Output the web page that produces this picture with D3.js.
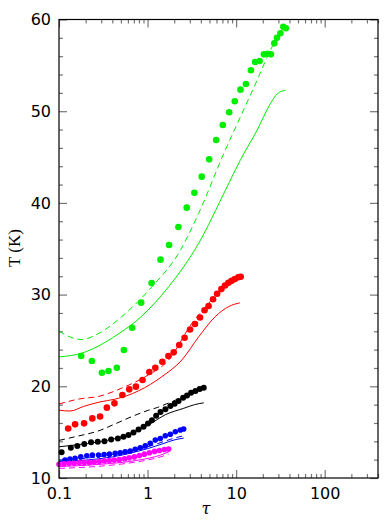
<!DOCTYPE html>
<html>
<head>
<meta charset="utf-8">
<script src="https://cdn.jsdelivr.net/npm/d3@7"></script>
<style>
  body { margin: 0; background: #fff; }
  .tick text { font-family: "DejaVu Sans", sans-serif; font-size: 16px; fill: #000; }
  .tick line { stroke: #777; }
  .domain { display: none; }
</style>
</head>
<body>
<div id="chart"></div>
<script>
var width = 392,
    height = 523,
    margin = {top: 19.5, right: 14, bottom: 45, left: 59};

// x ticks (tau, log scale) and y ticks (T in K)
var xMajor = [0.1, 1, 10, 100],
    yMajor = [10, 20, 30, 40, 50, 60];

// green
var gDotTau = [0.178, 0.235, 0.305, 0.362, 0.45, 0.54, 0.671, 0.848, 1.11, 1.40, 1.75, 2.23, 2.77, 3.38, 4.09, 4.96, 5.95, 7.07, 8.35, 9.66, 11.2, 12.9, 14.7, 16.4, 18.4, 20.6, 22.7, 24.7, 27.0, 28.9, 31.6, 34.1, 36.5],
    gDotT = [23.3, 22.76, 21.48, 21.67, 22.03, 23.96, 26.39, 29.12, 31.26, 33.81, 35.41, 37.37, 39.48, 41.11, 42.86, 44.75, 46.86, 48.49, 49.88, 51.08, 52.35, 52.97, 54.46, 55.37, 55.48, 56.2, 56.27, 56.2, 57.4, 58.0, 58.5, 59.2, 59.05],
    gSolidTau = [0.1, 0.178, 0.45, 0.848, 1.73, 3.78, 7.59, 11.2, 17.3, 24.5, 29.2, 36.2],
    gSolidT = [23.2, 23.6, 25.6, 27.6, 30.86, 35.6, 41.4, 44.7, 47.95, 50.86, 51.9, 52.3],
    gDashTau = [0.1, 0.178, 0.291, 0.512, 1.12, 2.24, 3.78, 7.27, 11.2, 17.3, 24.5, 34.6],
    gDashT = [26.0, 25.1, 25.85, 27.6, 30.86, 34.5, 38.87, 45.4, 49.4, 53.4, 56.7, 59.2];

// red
var rDotTau = [0.127, 0.152, 0.192, 0.238, 0.291, 0.347, 0.423, 0.520, 0.621, 0.739, 0.878, 1.047, 1.224, 1.468, 1.719, 1.974, 2.28, 2.62, 3.02, 3.43, 3.91, 4.40, 4.89, 5.49, 6.10, 6.82, 7.5, 8.18, 8.88, 9.68, 10.6, 11.26],
    rDotT = [15.4, 15.85, 15.96, 16.5, 16.7, 17.67, 18.14, 19.05, 19.67, 19.96, 20.69, 21.56, 22.03, 22.68, 23.3, 23.7, 24.5, 25.3, 26.2, 26.8, 27.5, 28.3, 28.76, 29.5, 30.1, 30.6, 31.0, 31.3, 31.5, 31.7, 31.9, 31.95],
    rSolidTau = [0.1, 0.133, 0.189, 0.291, 0.431, 0.79, 1.45, 2.44, 3.78, 5.82, 8.26, 11.0],
    rSolidT = [17.4, 17.3, 17.8, 18.3, 18.6, 19.5, 21.05, 22.87, 25.4, 27.6, 28.7, 29.1],
    rDashTau = [0.1, 0.165, 0.291, 0.512, 0.941, 1.73, 3.17, 4.9, 7.0, 11.2],
    rDashT = [18.07, 18.6, 18.94, 19.8, 21.05, 22.87, 26.87, 29.05, 30.7, 31.9];

// black
var kDotTau = [0.107, 0.136, 0.161, 0.193, 0.230, 0.274, 0.326, 0.388, 0.462, 0.535, 0.609, 0.694, 0.791, 0.901, 1.01, 1.12, 1.25, 1.40, 1.59, 1.81, 2.02, 2.24, 2.52, 2.79, 3.10, 3.47, 3.88, 4.31],
    kDotT = [12.8, 13.3, 13.5, 13.7, 13.9, 13.95, 14.0, 14.2, 14.3, 14.5, 14.7, 14.95, 15.3, 15.6, 15.95, 16.3, 16.8, 17.2, 17.5, 17.85, 18.1, 18.4, 18.75, 19.0, 19.3, 19.5, 19.7, 19.85],
    kSolidTau = [0.1, 0.152, 0.291, 0.43, 0.666, 1.03, 1.59, 2.56, 3.4, 4.31],
    kSolidT = [13.4, 13.6, 13.96, 14.3, 14.9, 15.8, 16.9, 17.6, 18.0, 18.2],
    kDashTau = [0.1, 0.152, 0.291, 0.43, 0.666, 1.03, 1.3, 1.65, 2.2, 3.0, 4.31],
    kDashT = [14.1, 14.5, 15.2, 15.9, 16.7, 17.4, 17.7, 18.1, 18.6, 19.2, 19.8];

// blue
var bDotTau = [0.117, 0.133, 0.152, 0.176, 0.206, 0.238, 0.279, 0.323, 0.371, 0.431, 0.491, 0.559, 0.637, 0.726, 0.827, 0.942, 1.073, 1.223, 1.392, 1.586, 1.807, 2.059, 2.346, 2.557],
    bDotT = [11.96, 12.07, 12.14, 12.3, 12.43, 12.5, 12.5, 12.57, 12.6, 12.7, 12.76, 12.87, 12.95, 13.13, 13.3, 13.5, 13.78, 14.14, 14.3, 14.6, 14.77, 15.05, 15.23, 15.34],
    bSolidTau = [0.1, 0.2, 0.4, 0.7, 1.0, 1.5, 2.0, 2.56],
    bSolidT = [11.8, 11.95, 12.3, 12.8, 13.2, 13.75, 14.15, 14.35],
    bDashTau = [0.1, 0.2, 0.4, 0.7, 1.0, 1.5, 2.0, 2.56],
    bDashT = [11.95, 12.15, 12.55, 13.0, 13.4, 13.95, 14.35, 14.6];

// magenta
var mDotTau = [0.1, 0.114, 0.13, 0.148, 0.169, 0.193, 0.22, 0.25, 0.285, 0.325, 0.37, 0.42, 0.48, 0.55, 0.62, 0.71, 0.81, 0.92, 1.05, 1.2, 1.36, 1.55, 1.73],
    mDotT = [11.5, 11.55, 11.6, 11.6, 11.65, 11.7, 11.7, 11.75, 11.8, 11.85, 11.9, 11.95, 12.0, 12.1, 12.2, 12.3, 12.45, 12.6, 12.75, 12.9, 13.0, 13.1, 13.15],
    mSolidTau = [0.1, 0.3, 0.8, 1.4, 1.73],
    mSolidT = [11.25, 11.5, 11.96, 12.5, 12.85],
    mDashTau = [0.1, 0.3, 0.8, 1.4, 1.73],
    mDashT = [11.05, 11.3, 11.8, 12.3, 12.6];

var series = [
  {color: '#00ee00', r: 3.3, dot: [gDotTau, gDotT], solid: [gSolidTau, gSolidT], dash: [gDashTau, gDashT]},
  {color: '#ff0000', r: 3.3, dot: [rDotTau, rDotT], solid: [rSolidTau, rSolidT], dash: [rDashTau, rDashT]},
  {color: '#000000', r: 3.0, dot: [kDotTau, kDotT], solid: [kSolidTau, kSolidT], dash: [kDashTau, kDashT]},
  {color: '#0000ff', r: 2.8, dot: [bDotTau, bDotT], solid: [bSolidTau, bSolidT], dash: [bDashTau, bDashT]},
  {color: '#ff00ff', r: 2.8, dot: [mDotTau, mDotT], solid: [mSolidTau, mSolidT], dash: [mDashTau, mDashT]}
];

function pairs(a) {
  return a[0].map(function (t, i) { return [t, a[1][i]]; });
}

var x = d3.scaleLog().domain([0.1, 400]).range([margin.left, width - margin.right]),
    y = d3.scaleLinear().domain([10, 60]).range([height - margin.bottom, margin.top]);

var xMinor = [];
[0.1, 1, 10, 100].forEach(function (d) {
  for (var k = 2; k <= 9; k += 1) {
    if (d * k <= 400) xMinor.push(d * k);
  }
});
var yMinor = d3.range(12, 60, 2).filter(function (v) { return v % 10 !== 0; });

var svg = d3.select('#chart').append('svg')
  .attr('width', width)
  .attr('height', height);

var x0 = margin.left, x1 = width - margin.right,
    y0 = height - margin.bottom, y1 = margin.top;

// ticks, pointing inward on all four sides
svg.append('g').attr('transform', 'translate(0,' + y0 + ')')
  .call(d3.axisBottom(x).tickValues(xMajor).tickSize(-8).tickPadding(10)
    .tickFormat(function (d) { return d < 1 ? '0.1' : d3.format('d')(d); }));
svg.append('g').attr('transform', 'translate(0,' + y0 + ')')
  .call(d3.axisBottom(x).tickValues(xMinor).tickSize(-4).tickFormat(''));
svg.append('g').attr('transform', 'translate(0,' + y1 + ')')
  .call(d3.axisTop(x).tickValues(xMajor).tickSize(-8).tickFormat(''));
svg.append('g').attr('transform', 'translate(0,' + y1 + ')')
  .call(d3.axisTop(x).tickValues(xMinor).tickSize(-4).tickFormat(''));

svg.append('g').attr('transform', 'translate(' + x0 + ',0)')
  .call(d3.axisLeft(y).tickValues(yMajor).tickSize(-8).tickPadding(8).tickFormat(d3.format('d')));
svg.append('g').attr('transform', 'translate(' + x0 + ',0)')
  .call(d3.axisLeft(y).tickValues(yMinor).tickSize(-4).tickFormat(''));
svg.append('g').attr('transform', 'translate(' + x1 + ',0)')
  .call(d3.axisRight(y).tickValues(yMajor).tickSize(-8).tickFormat(''));
svg.append('g').attr('transform', 'translate(' + x1 + ',0)')
  .call(d3.axisRight(y).tickValues(yMinor).tickSize(-4).tickFormat(''));

svg.selectAll('.tick line').attr('stroke', '#777').attr('stroke-width', 1.2);

var line = d3.line()
  .x(function (d) { return x(d[0]); })
  .y(function (d) { return y(d[1]); })
  .curve(d3.curveMonotoneX);

var plot = svg.append('g');

series.forEach(function (s) {
  plot.append('path')
    .attr('d', line(pairs(s.solid)))
    .attr('fill', 'none')
    .attr('stroke', s.color)
    .attr('stroke-width', 1);
  plot.append('path')
    .attr('d', line(pairs(s.dash)))
    .attr('fill', 'none')
    .attr('stroke', s.color)
    .attr('stroke-width', 1)
    .attr('stroke-dasharray', '6,4');
});

series.forEach(function (s) {
  plot.append('g').selectAll('circle')
    .data(pairs(s.dot))
    .enter()
    .append('circle')
    .attr('cx', function (d) { return x(d[0]); })
    .attr('cy', function (d) { return y(d[1]); })
    .attr('r', s.r)
    .attr('fill', s.color);
});

// frame
svg.append('rect')
  .attr('x', x0).attr('y', y1)
  .attr('width', x1 - x0).attr('height', y0 - y1)
  .attr('fill', 'none')
  .attr('stroke', '#000')
  .attr('stroke-width', 1.2);

// axis titles
svg.append('text')
  .attr('x', 206)
  .attr('y', 514)
  .attr('text-anchor', 'middle')
  .attr('font-family', '"DejaVu Serif", serif')
  .attr('font-style', 'italic')
  .attr('font-size', 16)
  .text('τ');

svg.append('text')
  .attr('transform', 'translate(20,248) rotate(-90)')
  .attr('text-anchor', 'middle')
  .attr('font-family', '"Liberation Serif", serif')
  .attr('font-size', 17)
  .text('T (K)');
</script>
</body>
</html>
